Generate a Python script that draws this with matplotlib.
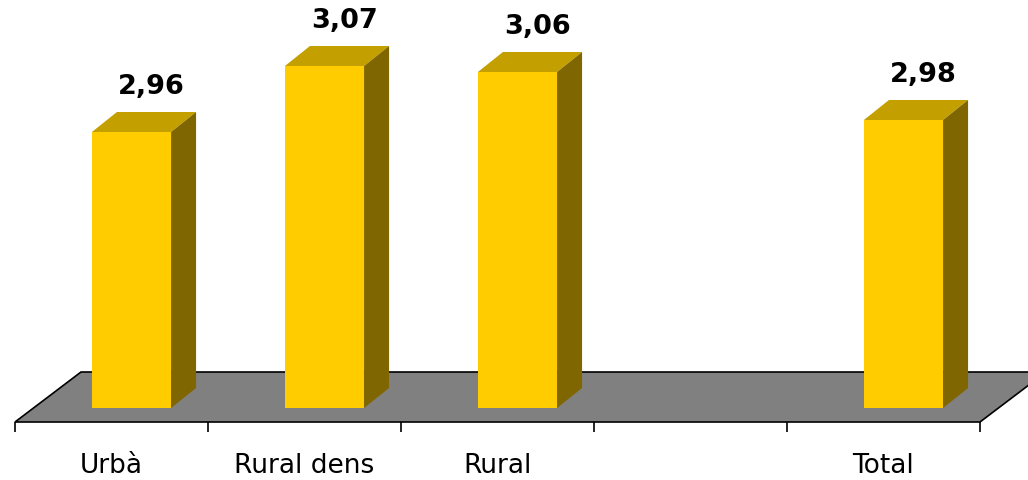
import numpy as np
import matplotlib.pyplot as plt
from matplotlib.patches import Polygon

categories = ['Urbà', 'Rural dens', 'Rural', '', 'Total']
values = [2.96, 3.07, 3.06, None, 2.98]
value_labels = ['2,96', '3,07', '3,06', '', '2,98']
ymin = 2.5

W, H = 1028, 480
# pixel geometry of the fake 3D scene
x0px, upx = 35, 193      # bar plane: x=0 at pixel 35, 193 px per category
y0px, vpx = 408, 600     # bar plane: ymin at pixel 408, 600 px per unit
floor_shift = (-20, 14)  # floor front edge relative to bar plane (px)
floor_depth = (66, 50)
bar_depth = (25, 20)
bar_w = 0.41

front_c, top_c, side_c, floor_c = '#FFCC00', '#C49F00', '#806600', '#808080'

fig = plt.figure(figsize=(W / 100, H / 100), dpi=100)
ax = fig.add_axes([0, 0, 1, 1])
ax.set_xlim(-x0px / upx, (W - x0px) / upx)
ax.set_ylim(ymin - (H - y0px) / vpx, ymin + y0px / vpx)
ax.axis('off')

# floor
fx0 = floor_shift[0] / upx
fy = ymin - floor_shift[1] / vpx
fdx, fdy = floor_depth[0] / upx, floor_depth[1] / vpx
n = len(categories)
floor = Polygon([(fx0, fy), (fx0 + n, fy), (fx0 + n + fdx, fy + fdy), (fx0 + fdx, fy + fdy)],
                closed=True, facecolor=floor_c, edgecolor='black', lw=1.2, zorder=1)
ax.add_patch(floor)

# ticks and category labels
tick_len = 10 / vpx
ax.vlines([fx0 + k for k in range(n + 1)], fy - tick_len, fy, color='black', lw=1.2, zorder=1)
for i, c in enumerate(categories):
    ax.text(fx0 + i + 0.5, ymin - 58 / vpx, c, ha='center', va='center', fontsize=19, family='DejaVu Sans')

# bars
bdx, bdy = bar_depth[0] / upx, bar_depth[1] / vpx
for i, v in enumerate(values):
    if v is None:
        continue
    xc = i + 0.5
    ax.bar(xc, v - ymin, bottom=ymin, width=bar_w, color=front_c, edgecolor='none', zorder=3)
    xl, xr = xc - bar_w / 2, xc + bar_w / 2
    ax.add_patch(Polygon([(xl, v), (xr, v), (xr + bdx, v + bdy), (xl + bdx, v + bdy)],
                         closed=True, facecolor=top_c, edgecolor='none', zorder=3))
    ax.add_patch(Polygon([(xr, ymin), (xr + bdx, ymin + bdy), (xr + bdx, v + bdy), (xr, v)],
                         closed=True, facecolor=side_c, edgecolor='none', zorder=3))
    ax.text(xc + 20 / upx, v + bdy + 12 / vpx, value_labels[i], ha='center', va='bottom',
            fontsize=19.5, fontweight='bold', family='DejaVu Sans')

fig.savefig('out.png', dpi=100)
